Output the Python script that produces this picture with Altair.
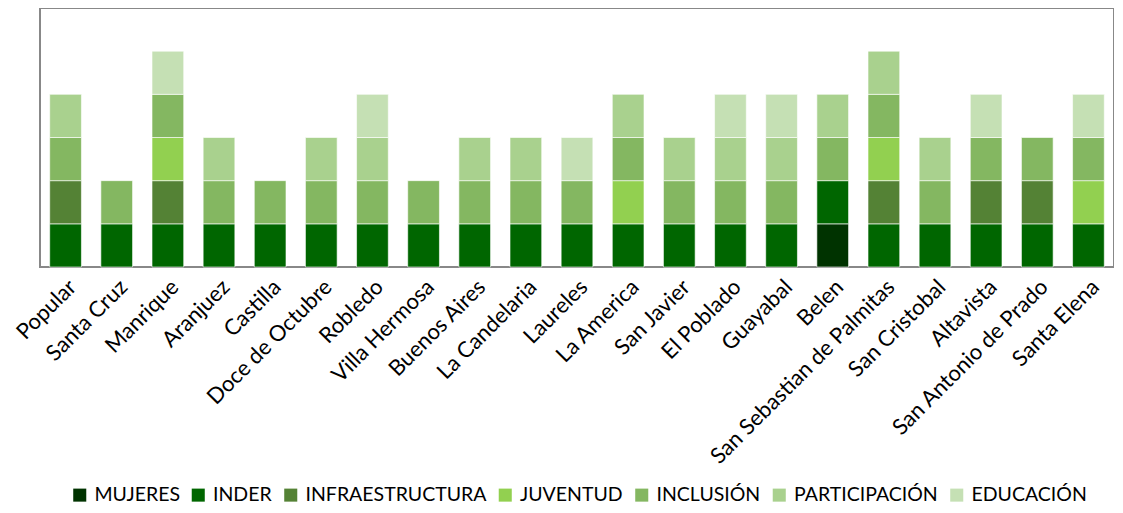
import altair as alt
import pandas as pd

comunas = ["Popular", "Santa Cruz", "Manrique", "Aranjuez", "Castilla", "Doce de Octubre",
           "Robledo", "Villa Hermosa", "Buenos  Aires", "La Candelaria", "Laureles", "La America",
           "San Javier", "El Poblado", "Guayabal", "Belen", "San Sebastian de Palmitas",
           "San Cristobal", "Altavista", "San Antonio de Prado", "Santa Elena"]

series = ["MUJERES", "INDER", "INFRAESTRUCTURA", "JUVENTUD", "INCLUSIÓN", "PARTICIPACIÓN", "EDUCACIÓN"]
colors = ["#003300", "#006600", "#548235", "#92D050", "#84B761", "#A9D18E", "#C5E0B4"]

mujeres         = [0, 0, 0, 0, 0, 0, 0, 0, 0, 0, 0, 0, 0, 0, 0, 1, 0, 0, 0, 0, 0]
inder           = [1, 1, 1, 1, 1, 1, 1, 1, 1, 1, 1, 1, 1, 1, 1, 1, 1, 1, 1, 1, 1]
infraestructura = [1, 0, 1, 0, 0, 0, 0, 0, 0, 0, 0, 0, 0, 0, 0, 0, 1, 0, 1, 1, 0]
juventud        = [0, 0, 1, 0, 0, 0, 0, 0, 0, 0, 0, 1, 0, 0, 0, 0, 1, 0, 0, 0, 1]
inclusion       = [1, 1, 1, 1, 1, 1, 1, 1, 1, 1, 1, 1, 1, 1, 1, 1, 1, 1, 1, 1, 1]
participacion   = [1, 0, 0, 1, 0, 1, 1, 0, 1, 1, 0, 1, 1, 1, 1, 1, 1, 1, 0, 0, 0]
educacion       = [0, 0, 1, 0, 0, 0, 1, 0, 0, 0, 1, 0, 0, 1, 1, 0, 0, 0, 1, 0, 1]

values = [mujeres, inder, infraestructura, juventud, inclusion, participacion, educacion]

rows = []
for si, (name, vals) in enumerate(zip(series, values)):
    for c, v in zip(comunas, vals):
        if v:
            rows.append({"Comuna": c, "Programa": name, "Valor": v, "orden": si})
df = pd.DataFrame(rows)

FONT = "Lato"

chart = alt.Chart(df).mark_bar(stroke="white", strokeWidth=1, strokeOpacity=0.6).encode(
    x=alt.X("Comuna:N", sort=comunas, title=None,
            scale=alt.Scale(paddingInner=0.38, paddingOuter=0.19),
            axis=alt.Axis(labelAngle=-45, labelFontSize=22, labelFont=FONT, labelColor="#000000",
                          ticks=False, domain=False, labelPadding=9, labelLimit=400)),
    y=alt.Y("sum(Valor):Q", title=None, scale=alt.Scale(domain=[0, 6], nice=False),
            axis=None),
    color=alt.Color("Programa:N", sort=series,
                    scale=alt.Scale(domain=series, range=colors),
                    legend=alt.Legend(orient="none", direction="horizontal", columns=7,
                                      legendX=30, legendY=477, title=None,
                                      symbolType="square", symbolSize=170, symbolStrokeWidth=0,
                                      labelFontSize=19.5, labelFont=FONT, labelColor="#000000",
                                      columnPadding=8.5, labelOffset=5, labelLimit=400)),
    order=alt.Order("orden:Q", sort="ascending"),
).properties(
    width=1074, height=259,
    autosize=alt.AutoSizeParams(type="none"),
    padding={"left": 32, "top": 0, "right": 0, "bottom": 238},
).configure_view(
    stroke="#888888", strokeWidth=2
)

chart.save("out.html", embed_options={"renderer": "svg", "actions": False})
